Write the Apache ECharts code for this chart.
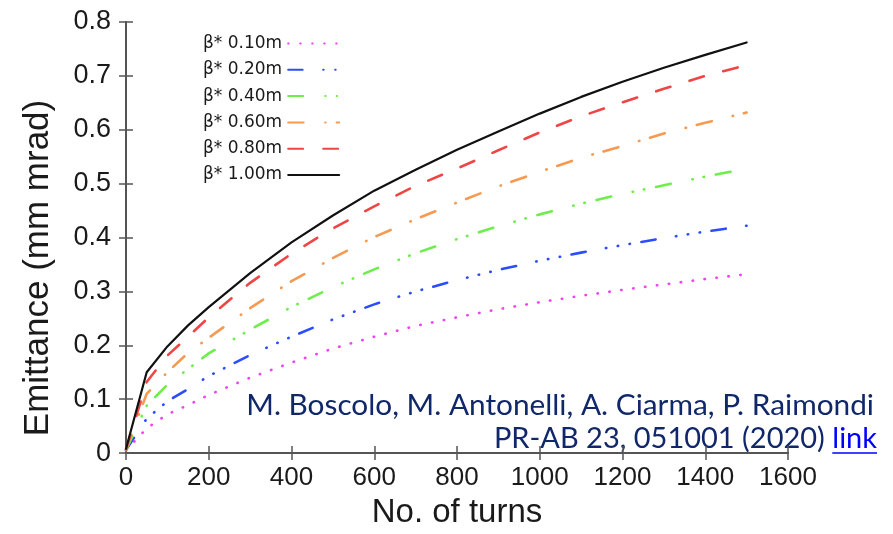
<!DOCTYPE html>
<html>
<head>
<meta charset="utf-8">
<title>Emittance growth vs. turns</title>
<script src="https://cdn.jsdelivr.net/npm/echarts@6/dist/echarts.min.js"></script>
<style>
  html, body { margin: 0; padding: 0; background: #ffffff; }
  #chart { width: 893px; height: 534px; }
</style>
</head>
<body>
<div id="chart"></div>
<script>
// Turn numbers at which the emittance was sampled
const turns = [0, 50, 100, 150, 200, 300, 400, 500, 600, 700, 800, 900, 1000, 1100, 1200, 1300, 1400, 1500];

// Emittance (mm mrad) for each beta* value
const beta010 = [0.005, 0.046, 0.072, 0.089, 0.108, 0.140, 0.168, 0.194, 0.216, 0.236, 0.252, 0.267, 0.280, 0.292, 0.303, 0.313, 0.323, 0.332];
const beta020 = [0.006, 0.064, 0.096, 0.119, 0.143, 0.182, 0.216, 0.248, 0.276, 0.300, 0.321, 0.340, 0.357, 0.372, 0.386, 0.399, 0.411, 0.422];
const beta040 = [0.006, 0.088, 0.127, 0.156, 0.185, 0.229, 0.271, 0.308, 0.341, 0.371, 0.397, 0.421, 0.443, 0.463, 0.481, 0.497, 0.513, 0.528];
const beta060 = [0.007, 0.110, 0.150, 0.186, 0.214, 0.269, 0.319, 0.362, 0.401, 0.434, 0.465, 0.495, 0.522, 0.548, 0.570, 0.593, 0.613, 0.632];
const beta080 = [0.007, 0.132, 0.181, 0.216, 0.252, 0.316, 0.370, 0.417, 0.458, 0.496, 0.528, 0.562, 0.595, 0.625, 0.651, 0.676, 0.700, 0.720];
const beta100 = [0.008, 0.150, 0.198, 0.237, 0.271, 0.334, 0.391, 0.441, 0.487, 0.526, 0.563, 0.597, 0.630, 0.661, 0.689, 0.715, 0.739, 0.762];

const seriesNames = ['β* 0.10m', 'β* 0.20m', 'β* 0.40m', 'β* 0.60m', 'β* 0.80m', 'β* 1.00m'];
const seriesValues = [beta010, beta020, beta040, beta060, beta080, beta100];

// Axis ticks
const xTicks = { min: 0, max: 1600, interval: 200 };
const yTicks = { min: 0, max: 0.8, interval: 0.1 };

// Reference lines of text in the lower right corner
const citeAuthors = 'M. Boscolo, M. Antonelli, A. Ciarma, P. Raimondi';
const citeJournal = 'PR-AB 23, 051001 (2020)';
const citeLink = 'link';

// Line appearance per series: colour, dash pattern (gnuplot-like)
const lineLooks = [
  { color: '#ee44ee', width: 2.6, type: [0.5, 11.5] },
  { color: '#2b4cff', width: 2.6, type: [14.5, 20.5, 0.5, 11.5, 0.5, 11.5, 0.5, 11.5] },
  { color: '#6eee4a', width: 2.6, type: [15, 22, 0.5, 11, 0.5, 12] },
  { color: '#f59a50', width: 2.6, type: [15.5, 21.5, 0.5, 11] },
  { color: '#f04545', width: 2.6, type: [15, 20] },
  { color: '#111111', width: 2.2, type: 'solid' }
];

const frameColor = '#555555';
const textColor = '#1a1a1a';
const citeFont = 'Lato';
const citeSize = 29;

// width of the link word, used for its underline
function textWidth(str, size, family) {
  const ctx = document.createElement('canvas').getContext('2d');
  ctx.font = size + 'px ' + family;
  return ctx.measureText(str).width;
}

const chart = echarts.init(document.getElementById('chart'), null, { renderer: 'canvas' });

const series = seriesNames.map((name, i) => ({
  name: name,
  type: 'line',
  xAxisIndex: 0,
  yAxisIndex: 0,
  symbol: 'none',
  smooth: false,
  clip: true,
  data: turns.map((t, k) => [t, seriesValues[i][k]]),
  lineStyle: {
    color: lineLooks[i].color,
    width: lineLooks[i].width,
    type: lineLooks[i].type,
    cap: 'round'
  },
  itemStyle: { color: lineLooks[i].color },
  z: 2 + i
}));

const tickStyle = { show: true, inside: true, length: 7, lineStyle: { color: frameColor, width: 1.5 } };
const lineStyleFrame = { show: true, lineStyle: { color: frameColor, width: 2 } };

const citeRight = 877;
const linkW = textWidth(citeLink, citeSize, citeFont);

const option = {
  animation: false,
  backgroundColor: '#ffffff',
  grid: { left: 126, right: 105, top: 22, bottom: 72, containLabel: false },
  legend: {
    orient: 'vertical',
    left: 198,
    top: 30,
    padding: 5,
    align: 'right',
    itemWidth: 51,
    itemHeight: 14,
    itemGap: 9.3,
    selectedMode: false,
    data: seriesNames,
    itemStyle: { opacity: 0 },
    textStyle: {
      fontFamily: 'DejaVu Sans',
      fontSize: 17,
      color: textColor,
      padding: [0, 1, 0, 0]
    }
  },
  xAxis: [
    {
      type: 'value',
      position: 'bottom',
      min: xTicks.min, max: xTicks.max, interval: xTicks.interval,
      name: 'No. of turns',
      nameLocation: 'middle',
      nameGap: 35,
      nameTextStyle: { fontFamily: 'Liberation Sans', fontSize: 33, color: textColor },
      axisLine: lineStyleFrame,
      axisTick: tickStyle,
      splitLine: { show: false },
      axisLabel: {
        margin: 12, fontFamily: 'Liberation Sans', fontSize: 26, color: textColor,
        formatter: v => String(v)
      }
    },
    {
      type: 'value',
      position: 'top',
      min: xTicks.min, max: xTicks.max, interval: xTicks.interval,
      axisLine: lineStyleFrame,
      axisTick: tickStyle,
      splitLine: { show: false },
      axisLabel: { show: false }
    }
  ],
  yAxis: [
    {
      type: 'value',
      position: 'left',
      min: yTicks.min, max: yTicks.max, interval: yTicks.interval,
      axisLine: lineStyleFrame,
      axisTick: tickStyle,
      splitLine: { show: false },
      axisLabel: { margin: 15, fontFamily: 'Liberation Sans', fontSize: 27, color: textColor }
    },
    {
      type: 'value',
      position: 'right',
      min: yTicks.min, max: yTicks.max, interval: yTicks.interval,
      axisLine: lineStyleFrame,
      axisTick: tickStyle,
      splitLine: { show: false },
      axisLabel: { show: false }
    }
  ],
  graphic: [
    {
      type: 'text',
      x: 38, y: 268,
      rotation: Math.PI / 2,
      style: {
        text: 'Emittance (mm mrad)',
        fontFamily: 'Liberation Sans',
        fontSize: 35,
        fill: textColor,
        align: 'center',
        verticalAlign: 'middle'
      }
    },
    {
      type: 'text',
      x: 874, y: 405,
      style: {
        text: citeAuthors,
        fontFamily: citeFont,
        fontSize: 29.8,
        fill: '#10276a',
        align: 'right',
        verticalAlign: 'middle'
      }
    },
    {
      type: 'text',
      x: citeRight, y: 439,
      style: {
        text: citeJournal + ' {lk|' + citeLink + '}',
        fontFamily: citeFont,
        fontSize: citeSize,
        fill: '#10276a',
        align: 'right',
        verticalAlign: 'middle',
        rich: {
          lk: { fill: '#0000ff', fontFamily: citeFont, fontSize: citeSize }
        }
      }
    },
    {
      type: 'line',
      shape: { x1: citeRight - linkW, y1: 453, x2: citeRight, y2: 453 },
      style: { stroke: '#0000ff', lineWidth: 1.5 }
    }
  ],
  series: series
};

chart.setOption(option);
</script>
</body>
</html>
